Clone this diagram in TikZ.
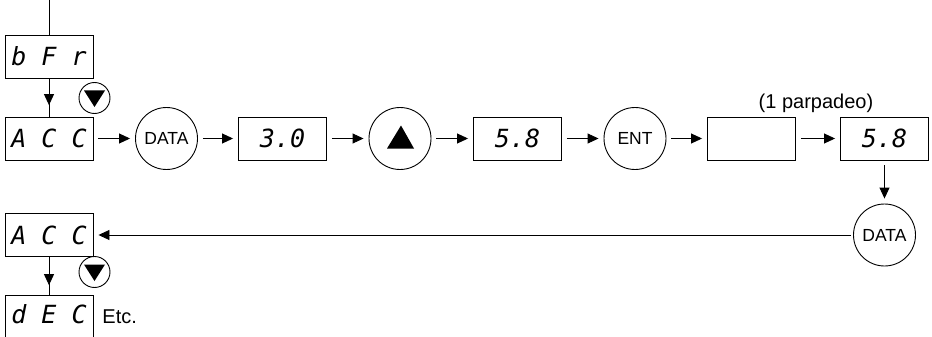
\documentclass[tikz,border=0pt]{standalone}
\usepackage{fontspec}
\setmainfont{Liberation Sans}
\newfontfamily\segfont{DejaVu Sans Mono}
\usetikzlibrary{arrows.meta,calc}
\begin{document}
\begin{tikzpicture}[x=1pt,y=-1pt, line width=0.9pt,
  disp/.style={draw, minimum width=88pt, minimum height=43pt, inner sep=0pt,
    font=\segfont\itshape\fontsize{25}{25}\selectfont},
  key/.style={draw, circle, minimum size=62pt, inner sep=0pt,
    font=\fontsize{17.5}{17.5}\selectfont},
  smallkey/.style={draw, circle, minimum size=31pt, inner sep=0pt},
  tip/.style={-{Triangle[length=11pt,width=10pt]}},
  arr/.style={tip, shorten >=5pt, shorten <=5pt},
  lbl/.style={font=\fontsize{20}{20}\selectfont, inner sep=0pt}]
\useasboundingbox (0,0) rectangle (932,337);
\clip (0,0) rectangle (932,337);

% displays and keys
\node[disp] (bfr) at (49,56.5) {b F r};
\node[disp] (acc1) at (49,138.5) {A C C};
\node[key] (data1) at (166.5,138.5) {DATA};
\node[disp] (v30) at (282.5,138.5) {3.0};
\node[key] (up) at (400,138.5) {};
\node[disp] (v58a) at (517.5,138.5) {5.8};
\node[key] (ent) at (635,138.5) {ENT};
\node[disp] (blank) at (751.5,138.5) {};
\node[disp] (v58b) at (884.5,138.5) {5.8};
\node[key] (data2) at (884.5,235) {DATA};
\node[disp] (acc2) at (49,235) {A C C};
\node[disp] (dec) at (49,316.5) {\raisebox{5pt}{d E C}};
\node[smallkey] (dn1) at (94.5,98) {};
\node[smallkey] (dn2) at (94.5,272) {};
\node[lbl, anchor=base] (blink) at (816,108) {(1 parpadeo)};
\node[lbl, anchor=base west] (etc) at (102,323) {Etc.};
\coordinate (top) at (49,0);

% key symbols
\fill ($(up.center)+(1,-13)$) -- ++(-14,23) -- ++(27,0) -- cycle;
\fill ($(dn1.center)+(-10.5,-7.5)$) -- ++(21,0) -- ++(-10.5,16.5) -- cycle;
\fill ($(dn2.center)+(-10.5,-7.5)$) -- ++(21,0) -- ++(-10.5,16.5) -- cycle;

% connectors
\draw (top) -- (bfr);
\draw (bfr) -- (acc1);
\draw[tip] (bfr.south) -- ($(bfr.south)!0.70!(acc1.north)$);
\draw[arr] (acc1) -- (data1);
\draw[arr] (data1) -- (v30);
\draw[arr] (v30) -- (up);
\draw[arr] (up) -- (v58a);
\draw[arr] (v58a) -- (ent);
\draw[arr] (ent) -- (blank);
\draw[arr] (blank) -- (v58b);
\draw[arr] (v58b) -- (data2);
\draw[tip, shorten >=5pt, shorten <=2pt] (data2) -- (acc2);
\draw (acc2) -- (dec);
\draw[tip] (acc2.south) -- ($(acc2.south)!0.75!(dec.north)$);
\end{tikzpicture}
\end{document}
